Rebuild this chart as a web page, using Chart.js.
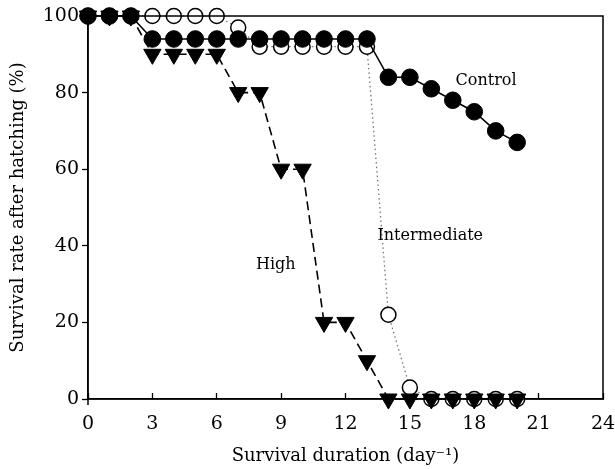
<!DOCTYPE html>
<html>
<head>
<meta charset="utf-8">
<script src="https://cdn.jsdelivr.net/npm/chart.js@4.4.0/dist/chart.umd.min.js"></script>
<style>
    html, body { margin: 0; padding: 0; background: #fff; }
    #wrap { width: 615px; height: 469px; }
</style>
</head>
<body>
<div id="wrap"><canvas id="survival-chart" width="615" height="469"></canvas></div>
<script>
// Survival data (day -> % alive)
const days = [0, 1, 2, 3, 4, 5, 6, 7, 8, 9, 10, 11, 12, 13, 14, 15, 16, 17, 18, 19, 20];
const controlRate = [100, 100, 100, 94, 94, 94, 94, 94, 94, 94, 94, 94, 94, 94, 84, 84, 81, 78, 75, 70, 67];
const intermediateRate = [100, 100, 100, 100, 100, 100, 100, 97, 92, 92, 92, 92, 92, 92, 22, 3, 0, 0, 0, 0, 0];
const highRate = [100, 100, 100, 90, 90, 90, 90, 80, 80, 60, 60, 20, 20, 10, 0, 0, 0, 0, 0, 0, 0];

const xTicks = [0, 3, 6, 9, 12, 15, 18, 21, 24];
const yTicks = [0, 20, 40, 60, 80, 100];

// in-plot series names and where they sit (data units)
const seriesNames = ['Control', 'Intermediate', 'High'];
const nameX = [18.55, 15.95, 8.75];
const nameY = [83, 42.5, 35];

const serif = "'DejaVu Serif', 'Liberation Serif', serif";

function toPoints(values) {
    return days.map((d, i) => ({ x: d, y: values[i] }));
}

// frame around the plot area + the series names
const framePlugin = {
    id: 'frame',
    afterDraw(chart) {
        const { ctx, chartArea, scales } = chart;
        ctx.save();
        ctx.strokeStyle = '#000';
        ctx.lineWidth = 1.5;
        ctx.strokeRect(chartArea.left, chartArea.top, chartArea.right - chartArea.left, chartArea.bottom - chartArea.top);
        // small stub of the y axis below the origin
        ctx.beginPath();
        ctx.moveTo(chartArea.left, chartArea.bottom);
        ctx.lineTo(chartArea.left, chartArea.bottom + 6);
        ctx.stroke();
        ctx.fillStyle = '#000';
        ctx.font = '16px ' + serif;
        ctx.textAlign = 'center';
        ctx.textBaseline = 'middle';
        seriesNames.forEach((name, i) => {
            ctx.fillText(name, scales.x.getPixelForValue(nameX[i]), scales.y.getPixelForValue(nameY[i]));
        });
        ctx.restore();
    }
};

const ctx = document.getElementById('survival-chart').getContext('2d');

new Chart(ctx, {
    type: 'line',
    data: {
        datasets: [
            {
                label: 'High',
                data: toPoints(highRate),
                order: 1,
                borderColor: '#000',
                borderWidth: 1.6,
                borderDash: [9, 5],
                pointStyle: 'triangle',
                rotation: 180,
                pointRadius: 10,
                pointBackgroundColor: '#000',
                pointBorderColor: '#000',
                pointBorderWidth: 1,
                clip: false
            },
            {
                label: 'Control',
                data: toPoints(controlRate),
                order: 2,
                borderColor: '#000',
                borderWidth: 1.6,
                pointStyle: 'circle',
                pointRadius: 8.3,
                pointBackgroundColor: '#000',
                pointBorderColor: '#000',
                pointBorderWidth: 1,
                clip: false
            },
            {
                label: 'Intermediate',
                data: toPoints(intermediateRate),
                order: 3,
                borderColor: '#777',
                borderWidth: 1.3,
                borderDash: [1.5, 3],
                pointStyle: 'circle',
                pointRadius: 7.5,
                pointBackgroundColor: '#fff',
                pointBorderColor: '#000',
                pointBorderWidth: 1.5,
                clip: false
            }
        ]
    },
    options: {
        responsive: false,
        animation: false,
        layout: { padding: { top: 16, right: 12, left: 0, bottom: 0 } },
        plugins: {
            legend: { display: false },
            tooltip: { enabled: false }
        },
        scales: {
            x: {
                type: 'linear',
                min: 0,
                max: 24,
                afterBuildTicks(scale) {
                    scale.ticks = xTicks.map(v => ({ value: v }));
                },
                afterFit(scale) {
                    scale.height = 70;
                    // keep the big label padding from eating into the plot width
                    scale.paddingLeft = 0;
                    scale.paddingRight = 0;
                },
                ticks: {
                    color: '#000',
                    font: { family: serif, size: 19 },
                    padding: 20,
                    maxRotation: 0
                },
                grid: {
                    drawOnChartArea: false,
                    color: '#000',
                    tickLength: -6,
                    tickWidth: 1.3
                },
                border: { color: '#000', width: 1.5 },
                title: {
                    display: true,
                    text: 'Survival duration (day\u207B\u00B9)',
                    color: '#000',
                    font: { family: serif, size: 18 },
                    padding: { top: 2, bottom: 2 }
                }
            },
            y: {
                min: 0,
                max: 100,
                afterBuildTicks(scale) {
                    scale.ticks = yTicks.map(v => ({ value: v }));
                },
                afterFit(scale) { scale.width = 88; },
                ticks: {
                    color: '#000',
                    font: { family: serif, size: 19 },
                    padding: 3
                },
                grid: {
                    drawOnChartArea: false,
                    color: '#000',
                    tickLength: 6,
                    tickWidth: 1.3
                },
                border: { color: '#000', width: 1.5 },
                title: {
                    display: true,
                    text: 'Survival rate after hatching (%)',
                    color: '#000',
                    font: { family: serif, size: 18 },
                    padding: { top: 8, bottom: 8 }
                }
            }
        }
    },
    plugins: [framePlugin]
});
</script>
</body>
</html>
